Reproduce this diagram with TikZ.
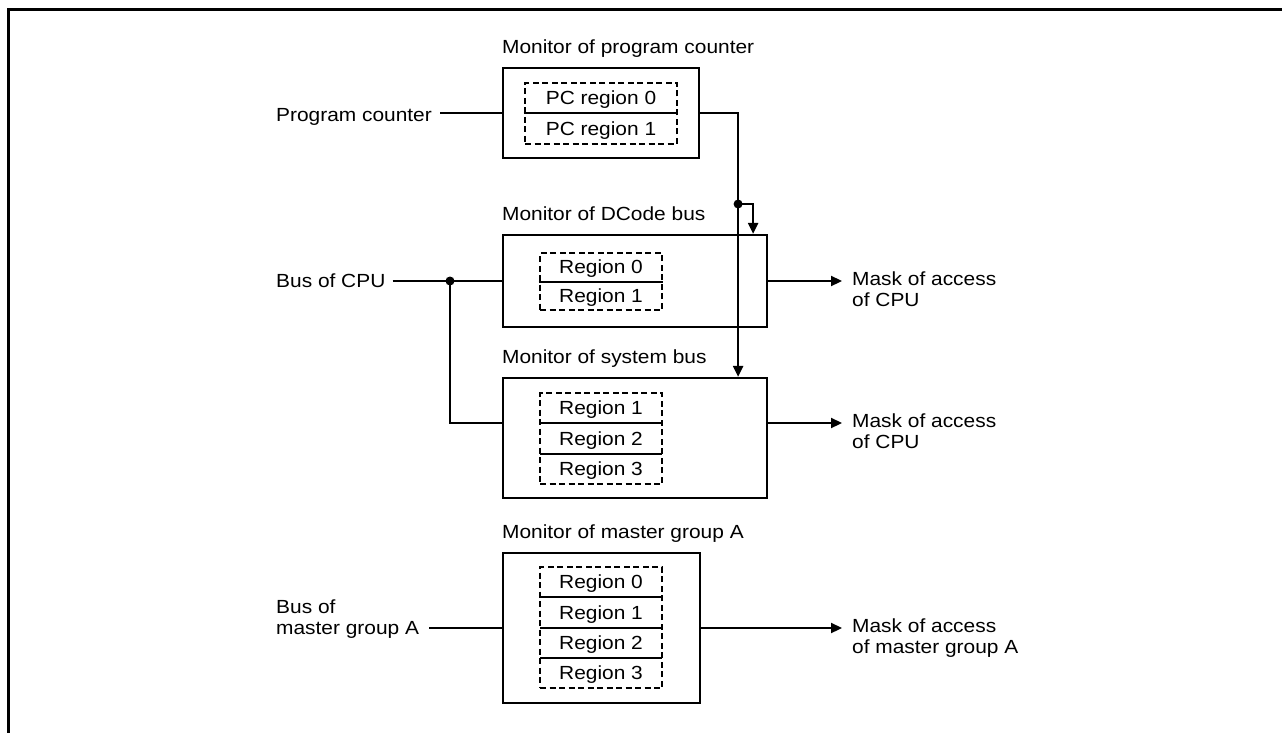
\documentclass[tikz,border=0pt]{standalone}
\usepackage{fontspec}
\newfontfamily\diagfont{Liberation Sans}[FakeStretch=1.1]
\usetikzlibrary{arrows.meta,calc}
\tikzset{
  monbox/.style={draw,line width=2.2pt,inner sep=0pt},
  regbox/.style={draw,line width=2.8pt,dash pattern=on 6pt off 3.5pt,inner sep=0pt},
  txt/.style={inner sep=0pt,font=\diagfont\fontsize{19}{21}\selectfont},
  rtxt/.style={txt,text height=13.5pt,text depth=0pt},
  wire/.style={line width=2.2pt},
  divline/.style={line width=2pt},
  arr/.style={wire,-{Triangle[length=11pt,width=10pt]}}
}
\begin{document}
\begin{tikzpicture}[x=1pt,y=-1pt]
    \useasboundingbox (0,0) rectangle (1282,733);
    \draw[line width=3pt] (8,733) -- (8,10) -- (1282,10);
    % program counter
    \node[monbox,minimum width=196pt,minimum height=90pt] (pcmon) at (601,113) {};
    \node[txt,anchor=base west] (pctitle) at ([yshift=13pt]pcmon.north west) {Monitor of program counter};
    \node[regbox,minimum width=152pt,minimum height=61pt] (pcreg) at (601,113.5) {};
    \draw[divline] (pcreg.west) -- (pcreg.east);
    \node[rtxt] (pcr0) at (601,98) {PC region 0};
    \node[rtxt] (pcr1) at (601,129) {PC region 1};
    \node[rtxt,anchor=west] (pcin) at (276,115) {Program counter};
    \draw[wire] ($(pcmon.west -| pcin.east)+(8,0)$) -- (pcmon.west);
    % DCode bus
    \node[monbox,minimum width=264pt,minimum height=92pt] (dmon) at (635,281) {};
    \node[txt,anchor=base west] (dtitle) at ([yshift=13pt]dmon.north west) {Monitor of DCode bus};
    \node[regbox,minimum width=122pt,minimum height=57pt] (dreg) at (601,281.5) {};
    \draw[divline] (dreg.west) -- (dreg.east);
    \node[rtxt] (dr0) at (601,267) {Region 0};
    \node[rtxt] (dr1) at (601,296) {Region 1};
    \node[rtxt,anchor=west] (cpuin) at (276,281) {Bus of CPU};
    \coordinate (cpuj) at (450,281);
    \draw[wire] ($(dmon.west -| cpuin.east)+(7,0)$) -- (dmon.west);
    \fill (cpuj) circle[radius=4.5pt];
    \node[txt,anchor=base west,align=left] (dout) at (852,306.5) {Mask of access\\of CPU};
    \draw[arr] (dmon.east) -- ([xshift=-10pt,yshift=25.5pt]dout.base west);
    % system bus
    \node[monbox,minimum width=264pt,minimum height=120pt] (smon) at (635,438) {};
    \node[txt,anchor=base west] (stitle) at ([yshift=13pt]smon.north west) {Monitor of system bus};
    \node[regbox,minimum width=122pt,minimum height=91pt] (sreg) at (601,438.5) {};
    \foreach \y in {423,454}
        \draw[divline] (540,\y) -- (662,\y);
    \node[rtxt] (sr1) at (601,408) {Region 1};
    \node[rtxt] (sr2) at (601,438.5) {Region 2};
    \node[rtxt] (sr3) at (601,469) {Region 3};
    \draw[wire] (cpuj) |- ([yshift=15pt]smon.west);
    \node[txt,anchor=base west,align=left] (sout) at (852,448.5) {Mask of access\\of CPU};
    \draw[arr] ([yshift=15pt]smon.east) -- ([xshift=-10pt,yshift=25.5pt]sout.base west);
    % PC output to both monitors
    \coordinate (pcv) at ([xshift=38pt]pcmon.east);
    \coordinate (pcj) at ($(pcv)+(0,91)$);
    \draw[arr] (pcmon.east) -- (pcv) -- (pcv |- smon.north);
    \fill (pcj) circle[radius=4.5pt];
    \draw[arr] (pcj) -| ([xshift=-15pt]dmon.north east);
    % master group A
    \node[monbox,minimum width=197pt,minimum height=150pt] (gmon) at (601.5,628) {};
    \node[txt,anchor=base west] (gtitle) at ([yshift=13pt]gmon.north west) {Monitor of master group A};
    \node[regbox,minimum width=122pt,minimum height=121pt] (greg) at (601,627.5) {};
    \foreach \y in {597,628,658}
        \draw[divline] (540,\y) -- (662,\y);
    \node[rtxt] (gr0) at (601,582) {Region 0};
    \node[rtxt] (gr1) at (601,612.5) {Region 1};
    \node[rtxt] (gr2) at (601,643) {Region 2};
    \node[rtxt] (gr3) at (601,673) {Region 3};
    \node[txt,anchor=base west,align=left] (gin) at (276,634.5) {Bus of\\master group A};
    \draw[wire] ($(gmon.west -| gin.east)+(10,0)$) -- (gmon.west);
    \node[txt,anchor=base west,align=left] (gout) at (852,653.5) {Mask of access\\of master group A};
    \draw[arr] (gmon.east) -- ([xshift=-10pt,yshift=25.5pt]gout.base west);
\end{tikzpicture}
\end{document}
